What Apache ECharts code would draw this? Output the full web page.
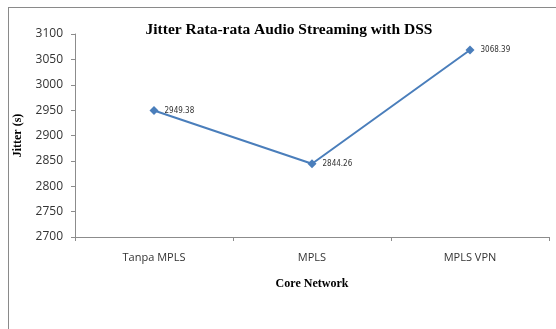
<!DOCTYPE html>
<html lang="en">
<head>
    <meta charset="UTF-8">
    <title>Jitter Rata-rata Audio Streaming with DSS</title>
    <script src="https://cdn.jsdelivr.net/npm/echarts@6.0.0/dist/echarts.min.js"></script>
    <style>
        body { margin: 0; background: #fff; }
        #frame { position: absolute; left: 8px; top: 7px; width: 548px; height: 322px;
                 border-left: 1px solid #8a8a8a; border-top: 1px solid #8a8a8a; pointer-events: none; }
    </style>
</head>
<body>

    <div id="main" style="width:556px; height:329px;"></div>
    <div id="frame"></div>

    <script>
        var categories = ["Tanpa MPLS", "MPLS", "MPLS VPN"]
        var jitter = [2949.38, 2844.26, 3068.39]
        var yTicks = [2700, 2750, 2800, 2850, 2900, 2950, 3000, 3050, 3100]

        var charts = echarts.init(document.getElementById("main"))

        var options = {
            animation: false,
            title: {
                text: "Jitter Rata-rata Audio Streaming with DSS",
                left: 284,
                textAlign: 'center',
                top: 17,
                textStyle: {
                    fontFamily: 'Liberation Serif',
                    fontWeight: 'bold',
                    fontSize: 15.5,
                    color: '#000'
                }
            },
            grid: { left: 75, right: 7, top: 34, bottom: 92 },
            xAxis: {
                type: 'category',
                data: categories,
                name: "Core Network",
                nameLocation: 'middle',
                nameGap: 41,
                nameTextStyle: { fontFamily: 'Liberation Serif', fontWeight: 'bold', fontSize: 12, color: '#000' },
                axisLine: { lineStyle: { color: '#8c8c8c', width: 1 } },
                axisTick: { show: true, alignWithLabel: false, length: 4, lineStyle: { color: '#8c8c8c' } },
                axisLabel: { fontFamily: 'Open Sans', fontSize: 11, color: '#333', margin: 15 }
            },
            yAxis: {
                type: 'value',
                min: yTicks[0],
                max: yTicks[yTicks.length - 1],
                interval: 50,
                name: "Jitter (s)",
                nameLocation: 'middle',
                nameGap: 51,
                nameRotate: 90,
                nameTextStyle: { fontFamily: 'Liberation Serif', fontWeight: 'bold', fontSize: 12, color: '#000' },
                axisLine: { show: true, lineStyle: { color: '#8c8c8c', width: 1 } },
                axisTick: { show: true, length: 4, lineStyle: { color: '#8c8c8c' } },
                axisLabel: {
                    fontFamily: 'Open Sans', fontSize: 12, color: '#333', margin: 12,
                    formatter: function (v) { return String(v) }
                },
                splitLine: { show: false }
            },
            series: [{
                type: 'line',
                name: "Jitter",
                data: jitter,
                symbol: 'diamond',
                symbolSize: 9,
                lineStyle: { color: '#4a7ebb', width: 2 },
                itemStyle: { color: '#4a7ebb' },
                label: {
                    show: true,
                    position: 'right',
                    distance: 6,
                    fontFamily: 'DejaVu Sans Condensed',
                    fontSize: 8,
                    color: '#333',
                    formatter: function (p) { return p.value.toFixed(2) }
                }
            }]
        };

        charts.setOption(options)
    </script>
</body>
</html>
